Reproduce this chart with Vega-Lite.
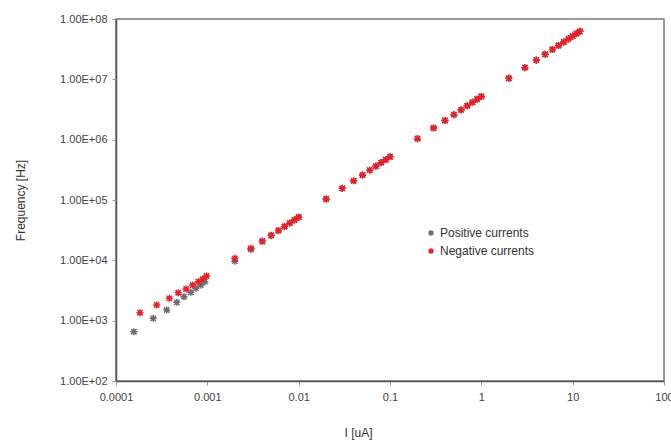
{
  "$schema": "https://vega.github.io/schema/vega-lite/v6.json",
  "width": 548,
  "height": 362,
  "autosize": {"type": "none"},
  "padding": {"left": 116, "top": 19, "right": 7, "bottom": 60},
  "background": "white",
  "config": {
    "font": "Liberation Sans",
    "view": {"stroke": "#7a7a7a", "strokeWidth": 1.5}
  },
  "data": {
    "values": [
      {"series": "Positive currents", "i": 0.000157, "f": 656},
      {"series": "Positive currents", "i": 0.000256, "f": 1094},
      {"series": "Positive currents", "i": 0.000359, "f": 1503},
      {"series": "Positive currents", "i": 0.000463, "f": 2015},
      {"series": "Positive currents", "i": 0.000555, "f": 2494},
      {"series": "Positive currents", "i": 0.00066, "f": 2950},
      {"series": "Positive currents", "i": 0.00075, "f": 3440},
      {"series": "Positive currents", "i": 0.00085, "f": 3900},
      {"series": "Positive currents", "i": 0.00094, "f": 4430},
      {"series": "Positive currents", "i": 0.002, "f": 9700},
      {"series": "Positive currents", "i": 0.003, "f": 15200},
      {"series": "Positive currents", "i": 0.004, "f": 20500},
      {"series": "Positive currents", "i": 0.005, "f": 25700},
      {"series": "Positive currents", "i": 0.006, "f": 30900},
      {"series": "Positive currents", "i": 0.007, "f": 36100},
      {"series": "Positive currents", "i": 0.008, "f": 41300},
      {"series": "Positive currents", "i": 0.009, "f": 46500},
      {"series": "Positive currents", "i": 0.01, "f": 51700},
      {"series": "Positive currents", "i": 0.02, "f": 104000},
      {"series": "Positive currents", "i": 0.03, "f": 156000},
      {"series": "Positive currents", "i": 0.04, "f": 208000},
      {"series": "Positive currents", "i": 0.05, "f": 260000},
      {"series": "Positive currents", "i": 0.06, "f": 312000},
      {"series": "Positive currents", "i": 0.07, "f": 364000},
      {"series": "Positive currents", "i": 0.08, "f": 416000},
      {"series": "Positive currents", "i": 0.09, "f": 468000},
      {"series": "Positive currents", "i": 0.1, "f": 520000},
      {"series": "Positive currents", "i": 0.2, "f": 1040000},
      {"series": "Positive currents", "i": 0.3, "f": 1560000},
      {"series": "Positive currents", "i": 0.4, "f": 2080000},
      {"series": "Positive currents", "i": 0.5, "f": 2600000},
      {"series": "Positive currents", "i": 0.6, "f": 3120000},
      {"series": "Positive currents", "i": 0.7, "f": 3640000},
      {"series": "Positive currents", "i": 0.8, "f": 4160000},
      {"series": "Positive currents", "i": 0.9, "f": 4680000},
      {"series": "Positive currents", "i": 1, "f": 5200000},
      {"series": "Positive currents", "i": 2, "f": 10400000},
      {"series": "Positive currents", "i": 3, "f": 15600000},
      {"series": "Positive currents", "i": 4, "f": 20800000},
      {"series": "Positive currents", "i": 5, "f": 26000000},
      {"series": "Positive currents", "i": 6, "f": 31200000},
      {"series": "Positive currents", "i": 7, "f": 36400000},
      {"series": "Positive currents", "i": 8, "f": 41600000},
      {"series": "Positive currents", "i": 9, "f": 46800000},
      {"series": "Positive currents", "i": 10, "f": 52000000},
      {"series": "Positive currents", "i": 11, "f": 57200000},
      {"series": "Positive currents", "i": 12, "f": 62400000},
      {"series": "Negative currents", "i": 0.000183, "f": 1355},
      {"series": "Negative currents", "i": 0.000279, "f": 1820},
      {"series": "Negative currents", "i": 0.000384, "f": 2345},
      {"series": "Negative currents", "i": 0.00048, "f": 2900},
      {"series": "Negative currents", "i": 0.000585, "f": 3350},
      {"series": "Negative currents", "i": 0.00069, "f": 3900},
      {"series": "Negative currents", "i": 0.000796, "f": 4430},
      {"series": "Negative currents", "i": 0.00089, "f": 4900},
      {"series": "Negative currents", "i": 0.00098, "f": 5500},
      {"series": "Negative currents", "i": 0.002, "f": 10800},
      {"series": "Negative currents", "i": 0.003, "f": 15800},
      {"series": "Negative currents", "i": 0.004, "f": 20900},
      {"series": "Negative currents", "i": 0.005, "f": 26100},
      {"series": "Negative currents", "i": 0.006, "f": 31300},
      {"series": "Negative currents", "i": 0.007, "f": 36500},
      {"series": "Negative currents", "i": 0.008, "f": 41700},
      {"series": "Negative currents", "i": 0.009, "f": 46900},
      {"series": "Negative currents", "i": 0.01, "f": 52200},
      {"series": "Negative currents", "i": 0.02, "f": 104000},
      {"series": "Negative currents", "i": 0.03, "f": 156000},
      {"series": "Negative currents", "i": 0.04, "f": 208000},
      {"series": "Negative currents", "i": 0.05, "f": 260000},
      {"series": "Negative currents", "i": 0.06, "f": 312000},
      {"series": "Negative currents", "i": 0.07, "f": 364000},
      {"series": "Negative currents", "i": 0.08, "f": 416000},
      {"series": "Negative currents", "i": 0.09, "f": 468000},
      {"series": "Negative currents", "i": 0.1, "f": 520000},
      {"series": "Negative currents", "i": 0.2, "f": 1040000},
      {"series": "Negative currents", "i": 0.3, "f": 1560000},
      {"series": "Negative currents", "i": 0.4, "f": 2080000},
      {"series": "Negative currents", "i": 0.5, "f": 2600000},
      {"series": "Negative currents", "i": 0.6, "f": 3120000},
      {"series": "Negative currents", "i": 0.7, "f": 3640000},
      {"series": "Negative currents", "i": 0.8, "f": 4160000},
      {"series": "Negative currents", "i": 0.9, "f": 4680000},
      {"series": "Negative currents", "i": 1, "f": 5200000},
      {"series": "Negative currents", "i": 2, "f": 10400000},
      {"series": "Negative currents", "i": 3, "f": 15600000},
      {"series": "Negative currents", "i": 4, "f": 20800000},
      {"series": "Negative currents", "i": 5, "f": 26000000},
      {"series": "Negative currents", "i": 6, "f": 31200000},
      {"series": "Negative currents", "i": 7, "f": 36400000},
      {"series": "Negative currents", "i": 8, "f": 41600000},
      {"series": "Negative currents", "i": 9, "f": 46800000},
      {"series": "Negative currents", "i": 10, "f": 52000000},
      {"series": "Negative currents", "i": 11, "f": 57200000},
      {"series": "Negative currents", "i": 12, "f": 62400000}
    ]
  },
  "mark": {
    "type": "point",
    "shape": "M -1 0 L 1 0 M 0 -1 L 0 1 M -0.75 -0.75 L 0.75 0.75 M -0.75 0.75 L 0.75 -0.75",
    "filled": false,
    "size": 50,
    "strokeWidth": 1.5,
    "opacity": 1
  },
  "encoding": {
    "x": {
      "field": "i",
      "type": "quantitative",
      "scale": {"type": "log", "domain": [0.0001, 100], "nice": false},
      "axis": {
        "title": "I [uA]",
        "values": [0.0001, 0.001, 0.01, 0.1, 1, 10, 100],
        "format": "~g",
        "grid": false,
        "domainColor": "#555555",
        "domainWidth": 1.5,
        "tickColor": "#999999",
        "tickSize": 4,
        "labelFontSize": 11,
        "labelColor": "#444444",
        "labelPadding": 6,
        "labelFlush": false,
        "titleFontSize": 12,
        "titleFontWeight": "normal",
        "titleColor": "#333333",
        "titleX": 242,
        "titleY": 51,
        "titleBaseline": "middle"
      }
    },
    "y": {
      "field": "f",
      "type": "quantitative",
      "scale": {"type": "log", "domain": [100, 100000000], "nice": false},
      "axis": {
        "title": "Frequency [Hz]",
        "values": [100, 1000, 10000, 100000, 1000000, 10000000, 100000000],
        "labelExpr": "'1.00E+0' + format(round(log(datum.value) / LN10), 'd')",
        "grid": false,
        "domainColor": "#555555",
        "domainWidth": 1.5,
        "tickColor": "#999999",
        "tickSize": 4,
        "labelFontSize": 11,
        "labelColor": "#444444",
        "labelPadding": 5,
        "labelFlush": false,
        "titleFontSize": 12,
        "titleFontWeight": "normal",
        "titleColor": "#333333",
        "titleAngle": -90,
        "titleX": -96,
        "titleY": 181,
        "titleAlign": "center",
        "titleBaseline": "middle"
      }
    },
    "color": {
      "field": "series",
      "type": "nominal",
      "sort": ["Positive currents", "Negative currents"],
      "scale": {"domain": ["Positive currents", "Negative currents"], "range": ["#6e6e6e", "#e8202a"]},
      "legend": {
        "title": null,
        "orient": "none",
        "legendX": 309,
        "legendY": 208,
        "symbolType": "M -1 0 L 1 0 M 0 -1 L 0 1 M -0.75 -0.75 L 0.75 0.75 M -0.75 0.75 L 0.75 -0.75",
        "symbolSize": 30,
        "symbolStrokeWidth": 1.5,
        "symbolFillColor": "transparent",
        "labelFontSize": 12,
        "labelColor": "#333333",
        "rowPadding": 6,
        "labelOffset": 3
      }
    }
  }
}
